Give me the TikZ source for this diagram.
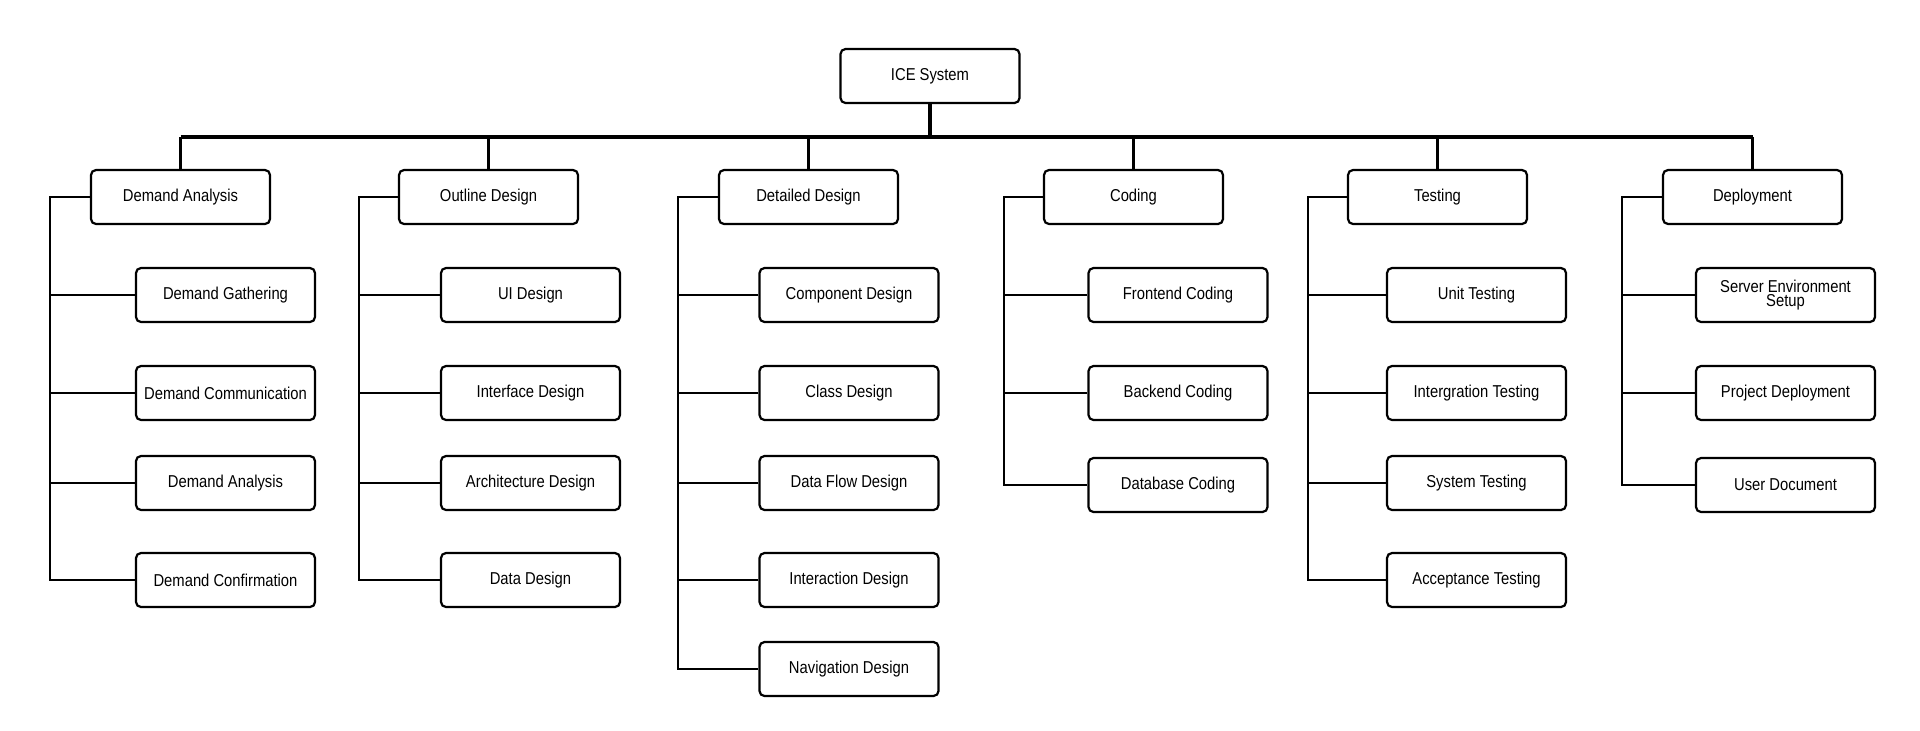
\documentclass[tikz,border=0pt]{standalone}
\usepackage{fontspec}
\setmainfont{Liberation Sans}[FakeStretch=0.86]
\begin{document}
\begin{tikzpicture}[x=0.5pt,y=-0.5pt,
  box/.style={draw=black, line width=1.1pt, rounded corners=2.5pt, fill=white,
    minimum width=89.5pt, minimum height=27pt, inner sep=0pt, align=center,
    font=\fontsize{8.6}{5.6}\selectfont},
  conn/.style={line width=1.2pt},
  busline/.style={line width=1.6pt}]
\useasboundingbox (0,0) rectangle (1920,730);
% root
\node[box] (root) at (930,76) {ICE System};
% level 1
\node[box] (L1) at (180.5,197) {Demand Analysis};
\node[box] (L2) at (488.5,197) {Outline Design};
\node[box] (L3) at (808.5,197) {Detailed Design};
\node[box] (L4) at (1133.5,197) {Coding};
\node[box] (L5) at (1437.5,197) {Testing};
\node[box] (L6) at (1752.5,197) {Deployment};
% children col 1
\node[box] (c11) at (225.5,295) {Demand Gathering};
\node[box] (c12) at (225.5,393) {Demand Communication};
\node[box] (c13) at (225.5,483) {Demand Analysis};
\node[box] (c14) at (225.5,580) {Demand Confirmation};
% col 2
\node[box] (c21) at (530.5,295) {UI Design};
\node[box] (c22) at (530.5,393) {Interface Design};
\node[box] (c23) at (530.5,483) {Architecture Design};
\node[box] (c24) at (530.5,580) {Data Design};
% col 3
\node[box] (c31) at (849,295) {Component Design};
\node[box] (c32) at (849,393) {Class Design};
\node[box] (c33) at (849,483) {Data Flow Design};
\node[box] (c34) at (849,580) {Interaction Design};
\node[box] (c35) at (849,669) {Navigation Design};
% col 4
\node[box] (c41) at (1178,295) {Frontend Coding};
\node[box] (c42) at (1178,393) {Backend Coding};
\node[box] (c43) at (1178,485) {Database Coding};
% col 5
\node[box] (c51) at (1476.5,295) {Unit Testing};
\node[box] (c52) at (1476.5,393) {Intergration Testing};
\node[box] (c53) at (1476.5,483) {System Testing};
\node[box] (c54) at (1476.5,580) {Acceptance Testing};
% col 6
\node[box] (c61) at (1785.5,295) {Server Environment\\Setup};
\node[box] (c62) at (1785.5,393) {Project Deployment};
\node[box] (c63) at (1785.5,485) {User Document};
% bus
\coordinate (bus) at (930,137);
\draw[busline] (root.south) -- (root.south |- bus);
\draw[busline] (L1.north |- bus) -- (L6.north |- bus);
\foreach \n in {L1,L2,L3,L4,L5,L6}{
  \draw[conn] (\n.north) -- (\n.north |- bus);
}
% spines
\coordinate (s1) at (50,197);
\coordinate (s2) at (359,197);
\coordinate (s3) at (678,197);
\coordinate (s4) at (1004,197);
\coordinate (s5) at (1308,197);
\coordinate (s6) at (1622,197);
\draw[conn] (L1.west) -- (s1) |- (c14.west);
\draw[conn] (L2.west) -- (s2) |- (c24.west);
\draw[conn] (L3.west) -- (s3) |- (c35.west);
\draw[conn] (L4.west) -- (s4) |- (c43.west);
\draw[conn] (L5.west) -- (s5) |- (c54.west);
\draw[conn] (L6.west) -- (s6) |- (c63.west);
\foreach \c in {c11,c12,c13}{\draw[conn] (\c.west) -- (\c.west -| s1);}
\foreach \c in {c21,c22,c23}{\draw[conn] (\c.west) -- (\c.west -| s2);}
\foreach \c in {c31,c32,c33,c34}{\draw[conn] (\c.west) -- (\c.west -| s3);}
\foreach \c in {c41,c42}{\draw[conn] (\c.west) -- (\c.west -| s4);}
\foreach \c in {c51,c52,c53}{\draw[conn] (\c.west) -- (\c.west -| s5);}
\foreach \c in {c61,c62}{\draw[conn] (\c.west) -- (\c.west -| s6);}
\end{tikzpicture}
\end{document}
